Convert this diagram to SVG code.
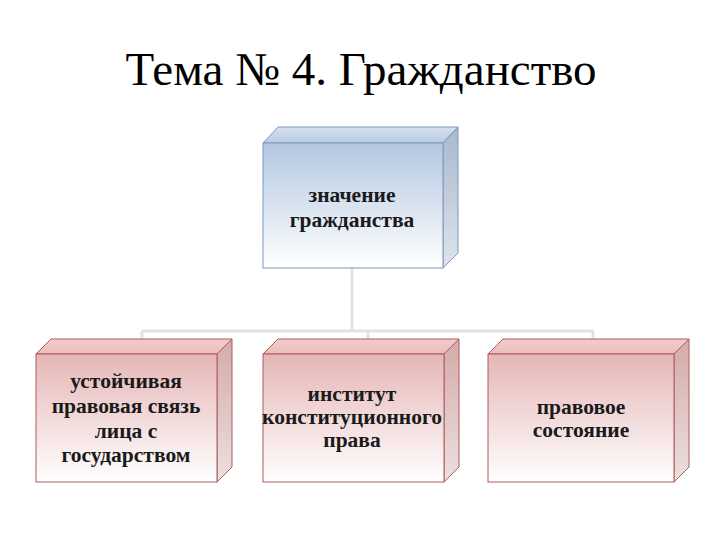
<svg xmlns="http://www.w3.org/2000/svg" width="720" height="540" viewBox="0 0 720 540">
<defs>
<linearGradient id="gBlue" x1="0" y1="0" x2="0" y2="1">
<stop offset="0" stop-color="#b3c7e2"/>
<stop offset="1" stop-color="#ffffff"/>
</linearGradient>
<linearGradient id="gBlueTop" x1="0" y1="0" x2="0" y2="1">
<stop offset="0" stop-color="#d5e0ef"/>
<stop offset="1" stop-color="#b9cbe4"/>
</linearGradient>
<linearGradient id="gBlueSide" x1="0" y1="0" x2="0" y2="1">
<stop offset="0" stop-color="#a8b8cc"/>
<stop offset="1" stop-color="#dfe4ea"/>
</linearGradient>
<linearGradient id="gPink" x1="0" y1="0" x2="0" y2="1">
<stop offset="0" stop-color="#e5b6b6"/>
<stop offset="1" stop-color="#ffffff"/>
</linearGradient>
<linearGradient id="gPinkTop" x1="0" y1="0" x2="0" y2="1">
<stop offset="0" stop-color="#f4cccc"/>
<stop offset="1" stop-color="#ebbcbc"/>
</linearGradient>
<linearGradient id="gPinkSide" x1="0" y1="0" x2="0" y2="1">
<stop offset="0" stop-color="#d4aaa9"/>
<stop offset="1" stop-color="#ece0e0"/>
</linearGradient>
</defs>
<style>
.title{font-family:"Liberation Serif","Times New Roman",serif;font-size:47px;fill:#000;text-anchor:middle}
.lbl{font-family:"Liberation Serif","Times New Roman",serif;font-size:21.5px;font-weight:bold;fill:#1a1a1a;text-anchor:middle}
.conn{stroke:#e2e2e2;stroke-width:3;fill:none}
.bf{fill:url(#gBlue);stroke:#7d98c2;stroke-width:1}
.bt{fill:url(#gBlueTop);stroke:#7d98c2;stroke-width:1}
.bs{fill:url(#gBlueSide);stroke:#7d98c2;stroke-width:1}
.pf{fill:url(#gPink);stroke:#b05a5a;stroke-width:1}
.pt{fill:url(#gPinkTop);stroke:#b05a5a;stroke-width:1}
.ps{fill:url(#gPinkSide);stroke:#b05a5a;stroke-width:1}
</style>
<rect width="720" height="540" fill="#ffffff"/>
<text class="title" x="361" y="85">Тема № 4. Гражданство</text>
<g id="connectors">
<path class="conn" d="M352 268 V331"/>
<path class="conn" d="M142 331 H593"/>
<path class="conn" d="M142 331 V354"/>
<path class="conn" d="M368 331 V354"/>
<path class="conn" d="M593 331 V354"/>
</g>
<g id="node-top">
<polygon class="bt" points="263,143 278,127 458,127 443,143"/>
<polygon class="bs" points="443,143 458,127 458,253 443,268"/>
<rect class="bf" x="263" y="143" width="180" height="125"/>
<text class="lbl" x="352" y="202">значение</text>
<text class="lbl" x="352" y="227">гражданства</text>
</g>
<g id="node-1">
<polygon class="pt" points="36,354 51,339 232,339 217,354"/>
<polygon class="ps" points="217,354 232,339 232,467 217,482"/>
<rect class="pf" x="36" y="354" width="181" height="128"/>
<text class="lbl" x="126" y="388">устойчивая</text>
<text class="lbl" x="126" y="413">правовая связь</text>
<text class="lbl" x="126" y="438">лица с</text>
<text class="lbl" x="126" y="462">государством</text>
</g>
<g id="node-2">
<polygon class="pt" points="263,354 278,339 459,339 444,354"/>
<polygon class="ps" points="444,354 459,339 459,467 444,482"/>
<rect class="pf" x="263" y="354" width="181" height="128"/>
<text class="lbl" x="352" y="401">институт</text>
<text class="lbl" x="352" y="424">конституционного</text>
<text class="lbl" x="352" y="447">права</text>
</g>
<g id="node-3">
<polygon class="pt" points="488,354 503,339 689,339 674,354"/>
<polygon class="ps" points="674,354 689,339 689,467 674,482"/>
<rect class="pf" x="488" y="354" width="186" height="128"/>
<text class="lbl" x="581" y="414">правовое</text>
<text class="lbl" x="581" y="437">состояние</text>
</g>
</svg>
